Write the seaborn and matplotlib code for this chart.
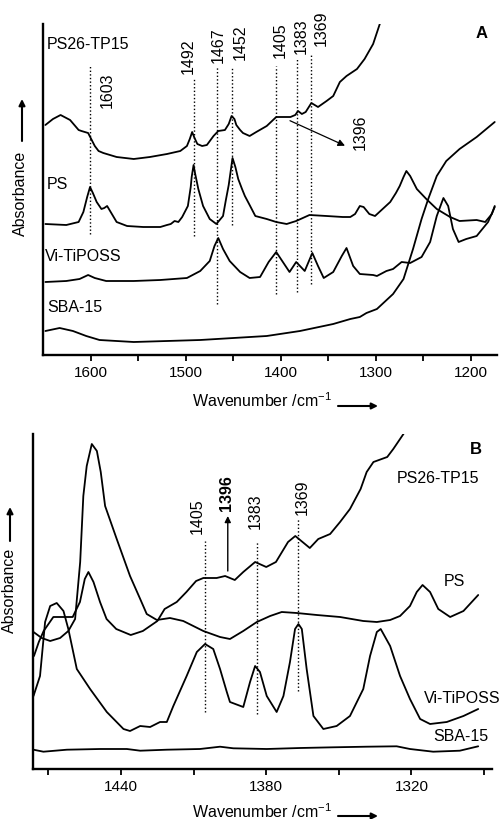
import numpy as np
import pandas as pd
import matplotlib
matplotlib.use("Agg")
import matplotlib.pyplot as plt
import seaborn as sns

# ---------------- Panel A data (wavenumber, absorbance a.u.) ----------------
a_ps26_w = [1648, 1640, 1632, 1622, 1613, 1610, 1603, 1596, 1592, 1587, 1573, 1555, 1538, 1520, 1506,
            1499, 1496, 1493.5, 1491, 1488, 1483, 1478, 1471, 1466, 1459, 1455, 1452, 1449, 1447, 1443,
            1440, 1433, 1426, 1415, 1405, 1399, 1390, 1385, 1382, 1378, 1374, 1368, 1361, 1352, 1345,
            1338, 1331, 1320, 1312, 1303, 1296, 1290]
a_ps26_v = [230, 236, 240, 235, 225, 224, 222, 209, 204, 202, 198, 196, 198, 201, 204,
            209, 216, 223, 217, 211, 209, 210, 219, 224, 225, 231, 239, 236, 230, 225,
            222, 219, 223, 229, 238, 238, 238, 240, 244, 241, 243, 252, 248, 254, 259,
            273, 279, 286, 296, 311, 331, 350]

a_ps_w = [1648, 1626, 1613, 1608, 1604, 1601, 1598, 1594, 1589, 1586, 1583, 1578, 1573, 1562, 1545,
          1527, 1520, 1516, 1512, 1508, 1504, 1498, 1495, 1494, 1492, 1490.5, 1487, 1482, 1475, 1468,
          1461, 1458, 1455, 1451, 1448, 1445, 1441, 1438, 1433, 1427, 1415, 1405, 1394, 1384, 1370,
          1352, 1335, 1327, 1322, 1317, 1313, 1307, 1301, 1293, 1285, 1279, 1275, 1271, 1268, 1264,
          1257, 1247, 1236, 1222, 1212, 1194, 1185, 1178, 1175]
a_ps_v = [131, 130, 133, 143, 158, 168, 162, 153, 146, 147, 149, 141, 133, 129, 128,
          128, 130, 131, 134, 133, 138, 149, 168, 178, 190, 182, 166, 149, 136, 131,
          139, 155, 170, 197, 188, 176, 166, 159, 150, 139, 136, 133, 131, 134, 140,
          139, 138, 138, 141, 149, 148, 141, 139, 146, 153, 162, 169, 178, 184, 179,
          166, 156, 146, 138, 134, 135, 133, 141, 149]

a_vi_w = [1648, 1626, 1612, 1603, 1596, 1584, 1555, 1527, 1499, 1485, 1475, 1470, 1466, 1461, 1454,
          1443, 1433, 1422, 1413, 1405, 1398, 1391, 1384, 1375, 1367, 1361, 1355, 1345, 1336, 1331,
          1324, 1317, 1303, 1299, 1289, 1282, 1273, 1264, 1252, 1243, 1236, 1229, 1224, 1219, 1213,
          1205, 1194, 1182, 1175]
a_vi_v = [73, 74, 76, 80, 77, 74, 74, 75, 77, 84, 94, 109, 117, 106, 94,
          83, 77, 78, 93, 103, 93, 83, 93, 84, 102, 89, 77, 83, 99, 107,
          89, 81, 80, 79, 84, 86, 93, 92, 98, 113, 139, 157, 149, 126, 113,
          116, 119, 133, 148]

a_sba_w = [1648, 1633, 1619, 1605, 1591, 1555, 1520, 1485, 1450, 1415, 1380, 1345, 1327, 1317, 1310,
           1299, 1282, 1271, 1261, 1252, 1245, 1236, 1226, 1212, 1194, 1175]
a_sba_v = [24, 27, 24, 19, 15, 13, 14, 15, 17, 19, 24, 31, 36, 38, 42,
           46, 61, 76, 106, 136, 156, 179, 194, 206, 218, 233]

# ---------------- Panel B data ----------------
b_ps26_w = [1476, 1474, 1472, 1468, 1464, 1460, 1457, 1455, 1453.5, 1451.4, 1448.7, 1446, 1442, 1436, 1431,
            1425, 1422, 1417, 1413, 1409, 1406, 1400.5, 1397, 1393, 1389.5, 1384.6, 1380, 1376, 1371, 1368,
            1365, 1362, 1358.5, 1353.6, 1349.5, 1345.4, 1341, 1338.5, 1335.7, 1330, 1327.5, 1323.3, 1320]
b_ps26_v = [113, 127, 138, 152, 152, 152, 167, 190, 197, 187, 167, 150, 140, 134, 138,
            148, 160, 167, 177, 188, 191, 191, 193, 189, 197, 207, 202, 207, 227, 233,
            227, 221, 230, 235, 247, 260, 280, 297, 307, 312, 320, 335, 350]

b_ps_w = [1476.2, 1472.8, 1469.3, 1465.2, 1461.8, 1459, 1456.9, 1455.6, 1454.2, 1452.1, 1450, 1448.4, 1446.6, 1441.8, 1436.3,
          1432.1, 1429.4, 1425.2, 1419.8, 1414.3, 1406, 1399.1, 1395, 1389.5, 1383.9, 1378.4, 1373.6, 1367.4, 1359.1, 1349.5,
          1339.9, 1334.3, 1328.8, 1324.7, 1320.6, 1317.8, 1315.4, 1312.3, 1308.9, 1304, 1298.5, 1292.4]
b_ps_v = [137, 131, 128, 131, 138, 150, 207, 273, 303, 325, 318, 297, 263, 230, 193,
          170, 155, 149, 151, 148, 138, 132, 130, 138, 147, 153, 157, 156, 154, 152,
          148, 147, 149, 153, 163, 177, 184, 177, 160, 152, 158, 174]

b_vi_w = [1476.2, 1473.5, 1471.4, 1469.3, 1466.6, 1463.8, 1461.8, 1458.3, 1452.8, 1445.9, 1439, 1436.3, 1432.1, 1428, 1423.9,
          1421.1, 1418.4, 1412.9, 1408.7, 1405.3, 1401.9, 1399.1, 1396.3, 1395, 1389.5, 1386.7, 1384.6, 1382.6, 1379.8, 1375.7,
          1372.9, 1370.2, 1368.1, 1366.7, 1365.3, 1363.3, 1360.5, 1356.4, 1350.9, 1345.4, 1339.9, 1337.1, 1334.3, 1332.7, 1328.8,
          1324.7, 1320.6, 1316.4, 1312.3, 1305.4, 1298.5, 1292.4]
b_vi_v = [73, 93, 147, 163, 166, 158, 140, 100, 80, 57, 40, 38, 43, 42, 47,
          47, 63, 93, 117, 125, 120, 100, 77, 67, 62, 87, 103, 97, 73, 57,
          73, 107, 140, 145, 140, 100, 53, 40, 43, 53, 80, 113, 137, 140, 123,
          93, 70, 50, 45, 47, 53, 60]

b_sba_w = [1476.2, 1472.1, 1462.4, 1448.7, 1437.6, 1432.1, 1421.1, 1407.4, 1399.1, 1393.6, 1379.8, 1366, 1352.3, 1338.5, 1326.1,
           1320.6, 1311, 1300, 1292.4]
b_sba_v = [19.3, 17.3, 19.3, 20, 20, 18.3, 19.3, 20, 22.3, 20.7, 20, 21, 21.7, 22.3, 22.7,
           20, 17.3, 18.3, 22.7]

# band labels
a_band_labels = ["1603", "1492", "1467", "1452", "1405", "1383", "1369"]
b_band_labels = ["1405", "1383", "1369"]
curve_names = ["PS26-TP15", "PS", "Vi-TiPOSS", "SBA-15"]

# ---------------- style ----------------
sns.set_style("ticks")
plt.rcParams['font.family'] = ['Liberation Sans', 'DejaVu Sans']
plt.rcParams['mathtext.fontset'] = 'custom'
plt.rcParams['mathtext.rm'] = 'Liberation Sans'
plt.rcParams['mathtext.it'] = 'Liberation Sans:italic'
for k in ['text.color', 'axes.labelcolor', 'xtick.color', 'ytick.color', 'axes.edgecolor']:
    plt.rcParams[k] = 'black'

W, H = 504, 820
fig = plt.figure(figsize=(W / 100, H / 100), dpi=100)


def fpos(l, t, r, b):
    return [l / W, 1 - b / H, (r - l) / W, (b - t) / H]


def fp(x, y):
    return (x / W, 1 - y / H)


axA = fig.add_axes(fpos(43, 25, 497, 356))
axB = fig.add_axes(fpos(33, 435, 492, 770))

LW = 1.3
FS = 11.5
NFS = 11.5


def draw(ax, series):
    for w, v in series:
        df = pd.DataFrame({'w': w, 'v': v})
        sns.lineplot(data=df, x='w', y='v', ax=ax, color='black', lw=LW,
                     estimator=None, sort=True, legend=False)


draw(axA, [(a_ps26_w, a_ps26_v), (a_ps_w, a_ps_v), (a_vi_w, a_vi_v), (a_sba_w, a_sba_v)])
draw(axB, [(b_ps26_w, b_ps26_v), (b_ps_w, b_ps_v), (b_vi_w, b_vi_v), (b_sba_w, b_sba_v)])

axA.set_xlim(1650.5, 1172.6)
axA.set_ylim(0, 331)
axB.set_xlim(1476.4, 1286.7)
axB.set_ylim(0, 335)

for ax, major, minor in [(axA, [1600, 1500, 1400, 1300, 1200], [1550, 1450, 1350, 1250]),
                         (axB, [1440, 1380, 1320], [1470, 1410, 1350, 1290])]:
    sns.despine(ax=ax)
    ax.spines['left'].set_linewidth(1.7)
    ax.spines['bottom'].set_linewidth(1.7)
    ax.set_xticks(major)
    ax.set_xticks(minor, minor=True)
    ax.set_yticks([])
    ax.tick_params(which='both', axis='x', direction='out', length=4, width=1.3,
                   labelsize=11, pad=3)
    ax.set_xlabel('')
    ax.set_ylabel('')

# dotted band markers
dot = (0, (1, 1.6))
a_line_pos = [1600.5, 1492, 1467, 1451.5, 1405, 1383, 1368]
a_line_top = [289, 276, 289, 288, 289, 296, 301]
a_line_bot = [121, 119, 51, 130, 61, 63, 71]
axA.vlines(a_line_pos, a_line_bot, a_line_top, colors='black', linestyles=dot, lw=1.0)
a_lab_pos = [(1582.8, 266), (1497.6, 299.5), (1466, 310.5), (1443.2, 313.5),
             (1400.3, 316), (1378.2, 320), (1357.2, 327.5)]
for s, (x, y) in zip(a_band_labels, a_lab_pos):
    axA.text(x, y, s, rotation=90, ha='center', va='center', fontsize=NFS, clip_on=False)

axA.annotate('', xy=(1332.6, 209.3), xytext=(1390.5, 234.3),
             arrowprops=dict(arrowstyle='-|>', color='black', lw=0.9, mutation_scale=10,
                             shrinkA=0, shrinkB=0))
axA.text(1316.8, 223.5, '1396', rotation=90, ha='center', va='center', fontsize=NFS)

b_line_pos = [1405.3, 1383.9, 1366.7]
b_line_top = [228, 227, 250]
b_line_bot = [57, 55, 78]
axB.vlines(b_line_pos, b_line_bot, b_line_top, colors='black', linestyles=dot, lw=1.0)
b_lab_pos = [(1408.6, 254), (1384.6, 259), (1365.3, 273)]
for s, (x, y) in zip(b_band_labels, b_lab_pos):
    axB.text(x, y, s, rotation=90, ha='center', va='center', fontsize=NFS, clip_on=False)
axB.annotate('', xy=(1395.9, 253), xytext=(1395.9, 198),
             arrowprops=dict(arrowstyle='-|>', color='black', lw=1.0, mutation_scale=9,
                             shrinkA=0, shrinkB=0))
axB.text(1396.3, 277, '1396', rotation=90, ha='center', va='center', fontsize=NFS,
         fontweight='bold')

# curve names
a_name_pos = [(1646.3, 311), (1646.3, 171), (1648, 99), (1646.3, 48)]
for s, (x, y) in zip(curve_names, a_name_pos):
    axA.text(x, y, s, ha='left', va='center', fontsize=FS)
b_name_pos = [(1326.1, 291.7), (1306.8, 188.3), (1315, 71.7), (1310.9, 33.3)]
for s, (x, y) in zip(curve_names, b_name_pos):
    axB.text(x, y, s, ha='left', va='center', fontsize=FS, clip_on=False)

axA.text(1188.8, 322, 'A', ha='center', va='center', fontsize=12, fontweight='bold')
axB.text(1293.4, 320, 'B', ha='center', va='center', fontsize=12, fontweight='bold')

# axis labels with arrows (figure pixel positions)
arrow_kw = dict(arrowstyle='-|>', color='black', lw=1.5, mutation_scale=9, shrinkA=0, shrinkB=0)
fig.text(*fp(20, 193.5), 'Absorbance', rotation=90, ha='center', va='center', fontsize=FS)
fig.add_artist(matplotlib.patches.FancyArrowPatch(fp(22, 142), fp(22, 100), transform=fig.transFigure, **arrow_kw))
fig.text(*fp(9, 590), 'Absorbance', rotation=90, ha='center', va='center', fontsize=FS)
fig.add_artist(matplotlib.patches.FancyArrowPatch(fp(10, 542), fp(10, 508), transform=fig.transFigure, **arrow_kw))

fig.text(*fp(262, 401), 'Wavenumber /cm$^{-1}$', ha='center', va='center', fontsize=FS)
fig.add_artist(matplotlib.patches.FancyArrowPatch(fp(338, 407), fp(378, 407), transform=fig.transFigure, **arrow_kw))
fig.text(*fp(262, 812), 'Wavenumber /cm$^{-1}$', ha='center', va='center', fontsize=FS)
fig.add_artist(matplotlib.patches.FancyArrowPatch(fp(338, 817), fp(378, 817), transform=fig.transFigure, **arrow_kw))

fig.savefig('out.png', dpi=100, facecolor='white')
